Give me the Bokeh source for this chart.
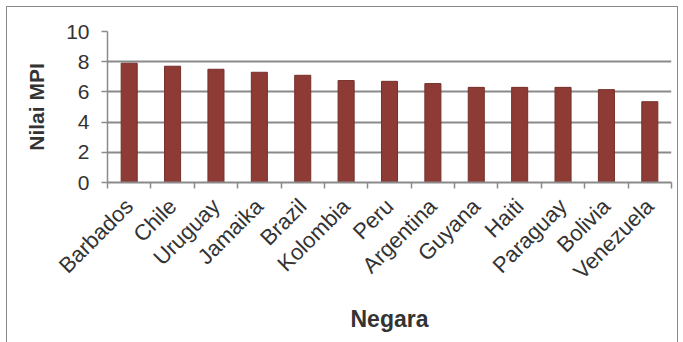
import math
from bokeh.plotting import figure
from bokeh.layouts import column
from bokeh.models import FixedTicker, Range1d
from bokeh.embed import file_html
from bokeh.resources import INLINE

countries = ["Barbados", "Chile", "Uruguay", "Jamaika", "Brazil", "Kolombia", "Peru",
             "Argentina", "Guyana", "Haiti", "Paraguay", "Bolivia", "Venezuela"]
mpi = [7.9, 7.7, 7.5, 7.3, 7.1, 6.75, 6.7, 6.55, 6.3, 6.3, 6.3, 6.15, 5.35]
y_ticks = [0, 2, 4, 6, 8, 10]

centers = [i + 0.5 for i in range(len(countries))]
bounds = list(range(len(countries) + 1))

p = figure(width=670, height=335, output_backend="svg", toolbar_location=None,
           x_range=Range1d(0, len(countries)), y_range=Range1d(0, 10),
           min_border_left=100, min_border_right=6, min_border_top=24, min_border_bottom=160)

p.vbar(x=centers, top=mpi, width=0.37, fill_color="#8E3B36", line_color="#74302b", line_width=1)

p.outline_line_color = None
p.xgrid.visible = False
p.ygrid.ticker = FixedTicker(ticks=y_ticks)
p.ygrid.grid_line_color = "#8a8a8a"
p.ygrid.grid_line_width = 2

ya = p.yaxis[0]
ya.ticker = FixedTicker(ticks=y_ticks)
ya.axis_line_color = "#8a8a8a"
ya.axis_line_width = 1.5
ya.major_tick_line_color = "#8a8a8a"
ya.major_tick_line_width = 1.5
ya.major_tick_out = 6
ya.major_tick_in = 0
ya.minor_tick_line_color = None
ya.major_label_text_font = "Liberation Sans"
ya.major_label_text_font_size = "21px"
ya.major_label_text_color = "#333333"
ya.major_label_standoff = 12
ya.axis_label = "Nilai MPI"
ya.axis_label_text_font = "Liberation Sans"
ya.axis_label_text_font_style = "bold"
ya.axis_label_text_font_size = "21px"
ya.axis_label_text_color = "#333333"
ya.axis_label_standoff = 15

xa = p.xaxis[0]
xa.ticker = FixedTicker(ticks=centers, minor_ticks=bounds)
xa.major_label_overrides = {c: n for c, n in zip(centers, countries)}
xa.major_label_orientation = math.pi / 4
xa.axis_line_color = "#8a8a8a"
xa.axis_line_width = 2
xa.major_tick_line_color = None
xa.minor_tick_line_color = "#8a8a8a"
xa.minor_tick_line_width = 1.5
xa.minor_tick_out = 6
xa.minor_tick_in = 0
xa.major_label_text_font = "Liberation Sans"
xa.major_label_text_font_size = "22px"
xa.major_label_text_color = "#333333"
xa.major_label_standoff = 14
xa.axis_label = "Negara"
xa.axis_label_text_font = "Liberation Sans"
xa.axis_label_text_font_style = "bold"
xa.axis_label_text_font_size = "23px"
xa.axis_label_text_color = "#333333"
xa.axis_label_standoff = 10

layout = column(p, styles={"border-left": "1.5px solid #8a8a8a",
                           "border-top": "1.5px solid #8a8a8a",
                           "border-right": "1.5px solid #8a8a8a",
                           "margin-left": "6px", "margin-top": "6px"})

open("out.html", "w").write(file_html(layout, INLINE))
